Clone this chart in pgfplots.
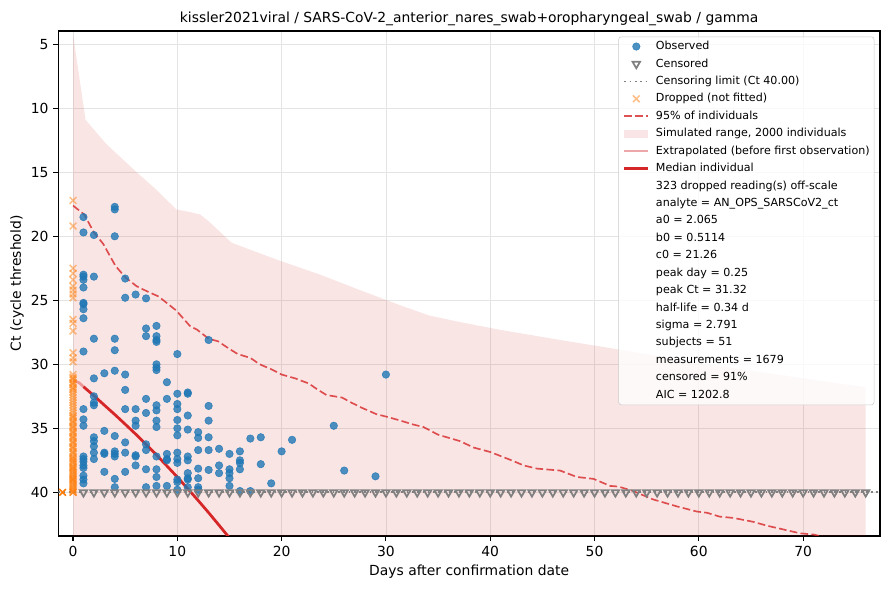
\documentclass[border=0pt]{standalone}
\usepackage{fontspec}
\setmainfont{DejaVu Sans}
\usepackage{pgfplots}
\pgfplotsset{compat=1.18}
\definecolor{tabblue}{RGB}{31,119,180}
\definecolor{taborange}{RGB}{255,127,14}
\definecolor{tabred}{RGB}{214,39,40}
\definecolor{gridgray}{RGB}{228,228,228}
\definecolor{legendgray}{RGB}{204,204,204}
\definecolor{mgray}{RGB}{128,128,128}

\pgfplotstableread[row sep=\\]{
x y \\
1 18.5 \\ 1 19.7 \\ 1 23.0 \\ 1 23.15 \\ 1 23.4 \\ 1 24.0 \\ 1 25.2 \\ 1 25.3 \\ 1 25.7 \\ 1 26.4 \\ 1 29.0 \\ 1 33.5 \\ 1 34.3 \\ 1 34.8 \\ 1 37.2 \\ 1 37.4 \\ 1 37.6 \\ 1 37.9 \\ 1 38.1 \\ 1 38.7 \\ 1 39.0 \\ 1 39.3 \\
2 19.9 \\ 2 23.15 \\ 2 28.0 \\ 2 31.1 \\ 2 32.5 \\ 2 33.0 \\ 2 33.2 \\ 2 35.7 \\ 2 36.0 \\ 2 36.4 \\ 2 36.9 \\ 2 37.4 \\
3 30.7 \\ 3 35.2 \\ 3 36.9 \\ 3 37.0 \\ 3 38.4 \\
4 17.7 \\ 4 17.9 \\ 4 20.0 \\ 4 28.0 \\ 4 28.9 \\ 4 30.5 \\ 4 35.6 \\ 4 36.8 \\ 4 37.0 \\ 4 37.2 \\ 4 38.95 \\ 4 39.6 \\
5 23.3 \\ 5 24.8 \\ 5 30.8 \\ 5 32.0 \\ 5 33.5 \\ 5 36.1 \\ 5 36.9 \\ 5 38.4 \\
6 24.55 \\ 6 33.5 \\ 6 34.4 \\ 6 34.8 \\ 6 37.1 \\ 6 37.2 \\ 6 37.9 \\
7 24.85 \\ 7 27.2 \\ 7 27.8 \\ 7 32.7 \\ 7 33.8 \\ 7 36.25 \\ 7 36.7 \\ 7 38.2 \\ 7 39.6 \\
8 27.0 \\ 8 27.8 \\ 8 28.1 \\ 8 28.25 \\ 8 30.0 \\ 8 30.25 \\ 8 30.45 \\ 8 33.2 \\ 8 33.6 \\ 8 34.4 \\ 8 34.9 \\ 8 37.2 \\ 8 38.2 \\ 8 38.8 \\ 8 39.5 \\
9 31.4 \\ 9 32.7 \\ 9 37.0 \\ 9 37.4 \\ 9 37.5 \\ 9 39.5 \\
10 29.2 \\ 10 32.3 \\ 10 33.1 \\ 10 33.5 \\ 10 34.35 \\ 10 35.0 \\ 10 35.55 \\ 10 36.9 \\ 10 37.4 \\ 10 37.7 \\ 10 39.0 \\ 10 39.2 \\ 10 39.8 \\
11 32.2 \\ 11 32.3 \\ 11 34.0 \\ 11 35.1 \\ 11 37.2 \\ 11 37.5 \\ 11 38.5 \\ 11 38.9 \\ 11 39.0 \\ 11 39.6 \\
12 35.3 \\ 12 35.75 \\ 12 36.7 \\ 12 38.15 \\ 12 38.9 \\ 12 39.6 \\ 12 39.8 \\
13 28.1 \\ 13 33.25 \\ 13 34.4 \\ 13 35.7 \\ 13 36.7 \\ 13 38.25 \\
14 36.6 \\ 14 37.9 \\ 14 38.5 \\
15 37.0 \\ 15 38.2 \\ 15 38.5 \\ 15 38.9 \\ 15 39.5 \\
16 36.8 \\ 16 37.5 \\ 16 37.7 \\ 16 38.2 \\ 16 39.9 \\
17 35.8 \\ 17 39.9 \\
18 35.7 \\ 18 37.8 \\
19 39.3 \\ 20 36.8 \\ 21 35.9 \\ 25 34.8 \\ 26 38.3 \\ 29 38.75 \\ 30 30.8 \\
}\observed

\pgfplotstableread[row sep=\\]{
x y \\
0 17.2 \\ 0 19.2 \\ 0 22.5 \\ 0 22.9 \\ 0 23.4 \\ 0 23.9 \\ 0 24.2 \\ 0 24.5 \\ 0 24.8 \\ 0 26.5 \\ 0 26.8 \\ 0 27.4 \\
0 29.1 \\ 0 29.5 \\ 0 29.8 \\
0 30.8 \\ 0 31.0 \\ 0 31.2 \\ 0 31.4 \\ 0 31.6 \\ 0 31.8 \\ 0 32.0 \\ 0 32.2 \\ 0 32.4 \\ 0 32.6 \\ 0 32.8 \\ 0 33.0 \\
0 33.2 \\ 0 33.4 \\ 0 33.6 \\ 0 33.8 \\ 0 34.0 \\ 0 34.2 \\ 0 34.4 \\ 0 34.6 \\ 0 34.8 \\ 0 35.0 \\ 0 35.2 \\ 0 35.4 \\
0 35.6 \\ 0 35.8 \\ 0 36.0 \\ 0 36.2 \\ 0 36.4 \\ 0 36.6 \\ 0 36.8 \\ 0 37.0 \\ 0 37.2 \\ 0 37.4 \\ 0 37.6 \\ 0 37.8 \\
0 38.0 \\ 0 38.2 \\ 0 38.4 \\ 0 38.6 \\ 0 38.8 \\ 0 39.0 \\ 0 39.2 \\ 0 39.4 \\ 0 39.6 \\ 0 39.8 \\ 0 40.0 \\
0 31.1 \\ 0 31.5 \\ 0 31.9 \\ 0 34.1 \\ 0 34.5 \\ 0 34.9 \\ 0 35.3 \\ 0 35.7 \\ 0 36.1 \\ 0 36.5 \\ 0 36.9 \\ 0 37.3 \\
0 37.7 \\ 0 38.1 \\ 0 38.5 \\ 0 38.9 \\ 0 39.3 \\ 0 39.7 \\ 0 40.0 \\
0 37.5 \\ 0 38.3 \\ 0 38.7 \\ 0 39.1 \\ 0 39.5 \\ 0 39.9 \\ 0 38.0 \\ 0 39.0 \\ 0 40.0 \\
}\dropped

\pgfplotstableread[row sep=\\]{
x y \\
1 40 \\ 2 40 \\ 3 40 \\ 4 40 \\ 5 40 \\ 6 40 \\ 7 40 \\ 8 40 \\ 9 40 \\ 10 40 \\ 11 40 \\ 12 40 \\ 13 40 \\ 14 40 \\ 15 40 \\ 16 40 \\
17 40 \\ 18 40 \\ 19 40 \\ 20 40 \\ 21 40 \\ 22 40 \\ 23 40 \\ 24 40 \\ 25 40 \\ 26 40 \\ 27 40 \\ 28 40 \\ 29 40 \\ 30 40 \\ 31 40 \\ 32 40 \\
33 40 \\ 34 40 \\ 35 40 \\ 36 40 \\ 37 40 \\ 38 40 \\ 39 40 \\ 40 40 \\ 41 40 \\ 42 40 \\ 43 40 \\ 44 40 \\ 45 40 \\ 46 40 \\ 47 40 \\ 48 40 \\
49 40 \\ 50 40 \\ 51 40 \\ 52 40 \\ 53 40 \\ 54 40 \\ 55 40 \\ 56 40 \\ 57 40 \\ 58 40 \\ 59 40 \\ 60 40 \\ 61 40 \\ 62 40 \\ 63 40 \\ 64 40 \\
65 40 \\ 66 40 \\ 67 40 \\ 68 40 \\ 69 40 \\ 70 40 \\ 71 40 \\ 72 40 \\ 73 40 \\ 74 40 \\ 75 40 \\ 76 40 \\
}\censored

\pgfplotstableread[row sep=\\]{
x y \\
0 45 \\ 0 4.2 \\ 1.2 10.9 \\ 3.2 12.8 \\ 6.1 15.0 \\ 7.9 16.3 \\ 9.9 17.9 \\ 10.5 18.0 \\ 11.2 18.1 \\ 12.2 18.3 \\ 13.1 18.9 \\
15.2 20.5 \\ 16.5 20.9 \\ 19.8 21.9 \\ 23.7 23.0 \\ 27.5 24.2 \\ 31.4 25.4 \\ 34.2 26.2 \\ 37.1 26.7 \\ 40.9 27.3 \\ 46.7 28.1 \\
52.0 28.8 \\ 60 29.9 \\ 70 31.1 \\ 76 31.8 \\ 76 45 \\
}\band

\pgfplotstableread[row sep=\\]{
x y \\
0 17.6 \\ 1.08 18.3 \\ 2 19.7 \\ 2.9 20.6 \\ 4.06 22.3 \\ 5 23.2 \\ 6.1 23.9 \\ 7.1 24.3 \\ 8.2 24.7 \\ 9.9 25.8 \\ 11.2 27.0 \\
11.9 27.3 \\ 13 28.0 \\ 13.9 28.2 \\ 15 28.8 \\ 15.8 29.2 \\ 17 29.5 \\ 17.9 30.0 \\ 19.05 30.4 \\ 20 30.8 \\ 21.3 31.1 \\ 22.6 31.5 \\
23.5 32.0 \\ 24.3 32.4 \\ 25.8 32.6 \\ 26.7 33.0 \\ 27.7 33.4 \\ 29.1 33.9 \\ 30.1 34.1 \\ 31.4 34.4 \\ 32.6 34.7 \\ 33.6 34.9 \\
35 35.5 \\ 37.1 36.0 \\ 38.4 36.5 \\ 40 36.85 \\ 42.2 37.55 \\ 43.2 37.9 \\ 44.5 38.15 \\ 46.7 38.3 \\ 48.3 38.8 \\ 49.9 38.95 \\
51.5 39.5 \\ 52.3 39.55 \\ 53.7 39.9 \\ 55.6 40.55 \\ 57.9 41.1 \\ 59.8 41.5 \\ 60.8 41.6 \\ 62 41.9 \\ 63.3 42.0 \\ 65.2 42.3 \\
66.5 42.6 \\ 68.1 42.9 \\ 69.7 43.2 \\ 71 43.3 \\ 72.5 43.6 \\
}\upper

\pgfplotstableread[row sep=\\]{
x y \\
1 31.75 \\ 2 32.45 \\ 3 33.19 \\ 4 33.92 \\ 5 34.68 \\ 6 35.45 \\ 7 36.26 \\ 8 37.08 \\ 9 37.94 \\ 10 38.81 \\
11 39.72 \\ 12 40.64 \\ 13 41.59 \\ 14 42.57 \\ 15 43.57 \\ 15.5 44.08 \\
}\median

\begin{document}
\begin{tikzpicture}
\begin{axis}[
  at={(0,0)}, anchor=south west,
  scale only axis, width=591.6pt, height=363.6pt,
  xmin=-1.41, xmax=77.37, ymin=3.96, ymax=43.41, y dir=reverse,
  xtick={0,10,...,70}, ytick={5,10,...,40},
  tick align=outside, tick pos=left, major tick length=3.5pt,
  every tick/.style={black, line width=0.8pt},
  axis line style={line width=0.8pt},
  grid=major, grid style={color=gridgray, line width=0.6pt},
  /pgf/number format/assume math mode=true,
  ticklabel style={font=\fontsize{10}{12}\selectfont},
  label style={font=\fontsize{10}{12}\selectfont},
  title style={font=\fontsize{10}{12}\selectfont},
  xlabel={Days after confirmation date},
  ylabel={Ct (cycle threshold)},
  title={kissler2021viral / SARS-CoV-2\_anterior\_nares\_swab+oropharyngeal\_swab / gamma},
  xlabel style={at={(axis description cs:0.5,-0.0712)}, anchor=center},
  ylabel style={at={(axis description cs:-0.0502,0.5)}, anchor=center},
  title style={at={(axis description cs:0.5,1)}, anchor=center, yshift=2.8pt},
  legend style={at={(1,1)}, anchor=north east, xshift=-4pt, yshift=-4pt,
    draw=legendgray, fill=white, fill opacity=0.8, text opacity=1, rounded corners=2pt,
    font=\fontsize{8}{9.6}\selectfont, inner sep=3.2pt, row sep=4.95pt, column sep=4.6pt,
    nodes={inner sep=0pt, text height=6pt, text depth=1.6pt}},
  legend cell align=left,
]
\addplot[fill=tabred, fill opacity=0.12, draw=none, forget plot] table[x=x,y=y] {\band} -- cycle;
\addplot[tabred, opacity=0.8, line width=1.2pt, dash pattern=on 5.5pt off 2.4pt, forget plot] table[x=x,y=y] {\upper};
\addplot[mgray, line width=1.2pt, dash pattern=on 1.2pt off 2.6pt, forget plot] coordinates {(-1.41,40) (77.37,40)};
\addplot[only marks, mark=*, mark size=2.7pt, draw=tabblue, fill=tabblue, opacity=0.8, forget plot] table[x=x,y=y] {\observed};
\addplot[only marks, mark=triangle, mark size=3.1pt, mark options={rotate=180, fill=none, draw=mgray, line width=1.25pt}, forget plot] table[x=x,y=y] {\censored};
\addplot[only marks, mark=x, mark size=3.4pt, taborange, opacity=0.5, line width=1.1pt, forget plot] table[x=x,y=y] {\dropped};
\addplot[only marks, mark=x, mark size=3.4pt, taborange, line width=1.1pt, forget plot] coordinates {(-1,40)};
\addplot[tabred, opacity=0.4, line width=2pt, forget plot] coordinates {(0,31.3) (0.25,31.32) (0.6,31.45) (1,31.75)};
\addplot[tabred, line width=2pt, forget plot] table[x=x,y=y] {\median};

\addlegendimage{only marks, mark=*, mark size=2.7pt, draw=tabblue, fill=tabblue, opacity=0.8}
\addlegendentry{Observed}
\addlegendimage{only marks, mark=triangle, mark size=3.1pt, mark options={rotate=180, fill=none, draw=mgray, line width=1.25pt}}
\addlegendentry{Censored}
\addlegendimage{mgray, line width=1.2pt, dash pattern=on 1.2pt off 2.6pt}
\addlegendentry{Censoring limit (Ct 40.00)}
\addlegendimage{only marks, mark=x, mark size=3.4pt, taborange, opacity=0.5, line width=1.1pt}
\addlegendentry{Dropped (not fitted)}
\addlegendimage{tabred, opacity=0.8, line width=1.2pt, dash pattern=on 5.5pt off 2.4pt}
\addlegendentry{95\% of individuals}
\addlegendimage{legend image code/.code={\path[draw=none, sharp corners, fill=tabred, fill opacity=0.12] (0pt,-2.8pt) rectangle (17pt,2.8pt);}}
\addlegendentry{Simulated range, 2000 individuals}
\addlegendimage{tabred, opacity=0.4, line width=2pt}
\addlegendentry{Extrapolated (before first observation)}
\addlegendimage{tabred, line width=2pt}
\addlegendentry{Median individual}
\addlegendimage{empty legend}\addlegendentry{323 dropped reading(s) off-scale}
\addlegendimage{empty legend}\addlegendentry{analyte = AN\_OPS\_SARSCoV2\_ct}
\addlegendimage{empty legend}\addlegendentry{a0 = 2.065}
\addlegendimage{empty legend}\addlegendentry{b0 = 0.5114}
\addlegendimage{empty legend}\addlegendentry{c0 = 21.26}
\addlegendimage{empty legend}\addlegendentry{peak day = 0.25}
\addlegendimage{empty legend}\addlegendentry{peak Ct = 31.32}
\addlegendimage{empty legend}\addlegendentry{half-life = 0.34 d}
\addlegendimage{empty legend}\addlegendentry{sigma = 2.791}
\addlegendimage{empty legend}\addlegendentry{subjects = 51}
\addlegendimage{empty legend}\addlegendentry{measurements = 1679}
\addlegendimage{empty legend}\addlegendentry{censored = 91\%}
\addlegendimage{empty legend}\addlegendentry{AIC = 1202.8}
\end{axis}
\pgfresetboundingbox
\path (-42pt,-38.9pt) rectangle (598.8pt,385.9pt);
\end{tikzpicture}
\end{document}
